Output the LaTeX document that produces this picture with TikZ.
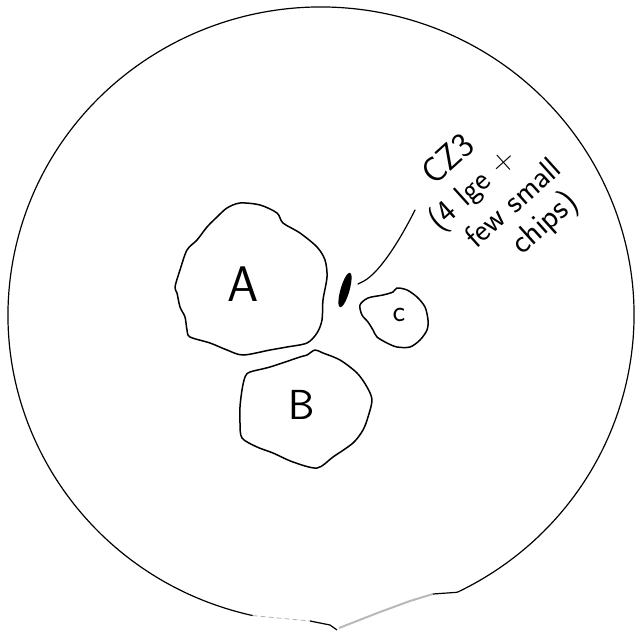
\documentclass[tikz,border=0pt]{standalone}
\usetikzlibrary{shapes.geometric}
\begin{document}
\begin{tikzpicture}[x=1pt,y=-1pt,
  rim/.style={line width=1.2pt},
  chunk/.style={line width=1.5pt,line join=round},
  chunklabel/.style={inner sep=0pt,font=\sffamily\fontsize{#1}{#1}\selectfont},
  chipmark/.style={ellipse,fill=black,minimum width=36pt,minimum height=9pt,inner sep=0pt,rotate=74},
  leader/.style={line width=1.2pt,line cap=round},
  note/.style={inner sep=0pt,anchor=base west,rotate=42,font=\sffamily\fontsize{#1}{#1}\selectfont}]
\useasboundingbox (0,0) rectangle (635,634);
\coordinate (ctr) at (321,315);
\draw[rim] (ctr) ++(102.6:313 and 308) coordinate (rimL)
   arc[start angle=102.6,end angle=424.2,x radius=313,y radius=308] coordinate (rimR);
\draw[gray!60,line width=0.8pt,dash pattern=on 5pt off 3pt] (rimL) -- (310,621);
\draw[rim] (310,621) -- (330,625) -- (337,630);
\draw[gray!55,line width=2pt] (339,628) -- (380,612) -- (410,601) -- (433,594);
\draw[rim] (433,594) -- (rimR);
\draw[chunk] plot[smooth cycle,tension=0.5] coordinates {
   (240,203) (260,205) (277,213) (283,223) (300,233) (317,247) (325,260)
   (327,277) (323,300) (322,320) (317,333) (307,343) (287,347) (270,350)
   (243,355) (227,350) (210,343) (190,337) (187,330) (185,317) (180,307)
   (177,293) (175,287) (180,270) (187,250) (197,240) (207,227) (217,217) (227,208)};
\draw[chunk] plot[smooth cycle,tension=0.5] coordinates {
   (307,355) (300,357) (270,367) (250,372) (245,377) (242,390) (240,407)
   (240,423) (242,438) (257,447) (273,453) (293,462) (317,468) (333,457)
   (353,443) (363,430) (368,417) (372,400) (367,387) (357,373) (340,360)
   (323,353) (315,350)};
\draw[chunk] plot[smooth cycle,tension=0.5] coordinates {
   (360,305) (368,298) (383,295) (393,292) (397,288) (407,290) (417,297)
   (425,307) (428,320) (427,330) (420,340) (410,347) (397,347) (387,343)
   (377,337) (373,330) (368,322) (362,315)};
\node[chunklabel=50] (labA) at (243,284) {A};
\node[chunklabel=42] (labB) at (302,405) {B};
\node[chunklabel=30] (labC) at (399,315) {c};
\node[chipmark] (chip) at (345,290) {};
\coordinate (hook) at (358,284);
\coordinate (lead) at (415,210);
\draw[leader] (hook) -- (364,281) .. controls (380,272) and (400,240) .. (lead);
\node[note=35] (czA) at (434,187) {CZ3};
\node[note=32] (czB) at (439,232) {(4 lge +};
\node[note=32] (czC) at (476,250) {few small};
\node[note=33] (czD) at (522,256) {chips)};
\end{tikzpicture}
\end{document}
